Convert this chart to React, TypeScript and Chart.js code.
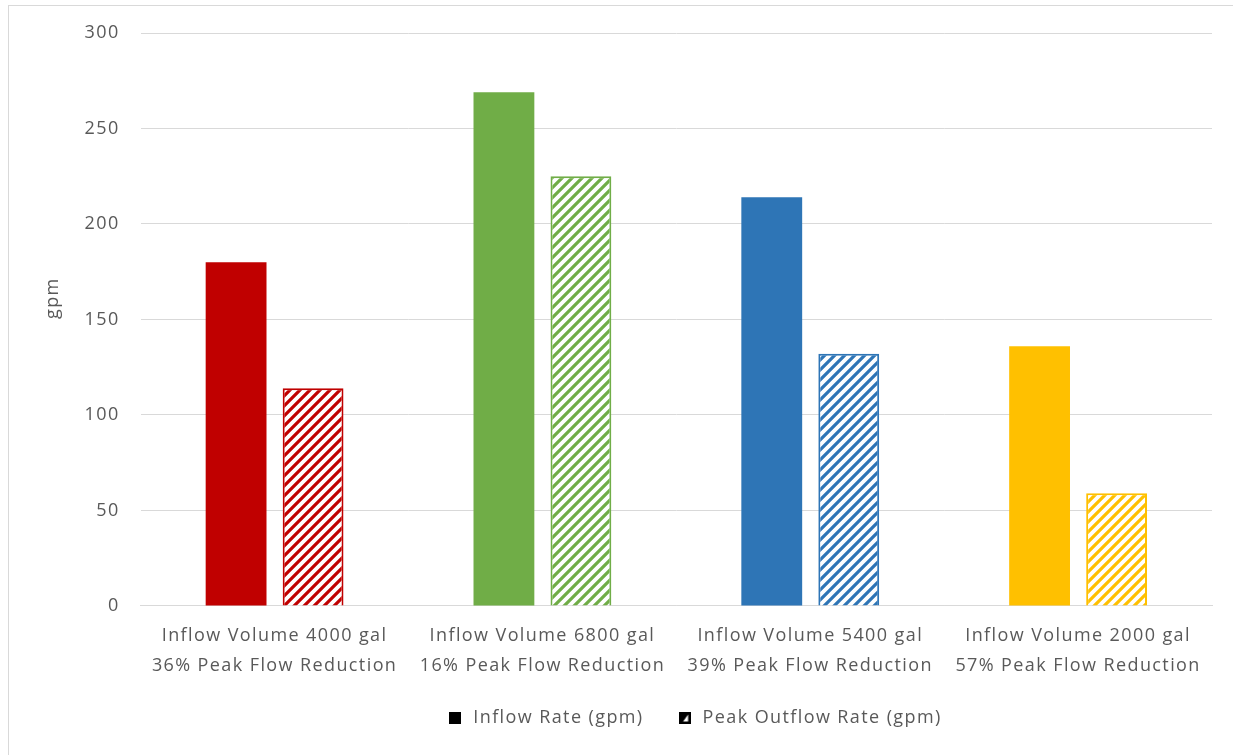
import React, { useEffect, useRef } from "react";
import { Chart, registerables } from "chart.js";

Chart.register(...registerables);

const categories: string[][] = [
  ["Inflow Volume 4000 gal", "36% Peak Flow Reduction"],
  ["Inflow Volume 6800 gal", "16% Peak Flow Reduction"],
  ["Inflow Volume 5400 gal", "39% Peak Flow Reduction"],
  ["Inflow Volume 2000 gal", "57% Peak Flow Reduction"],
];
const inflowRate = [180, 269, 214, 136];
const peakOutflowRate = [114, 225, 132, 59];
const barColors = ["#C00000", "#70AD47", "#2E75B6", "#FFC000"];
const seriesLabels = ["Inflow Rate (gpm)", "Peak Outflow Rate (gpm)"];
const yTitle = "gpm";

const FONT = "'Open Sans', sans-serif";
const TEXT = "#595959";
const SPACING = "1.4px";

function makeHatch(color: string): CanvasPattern | string {
  const s = 10;
  const c = document.createElement("canvas");
  c.width = s;
  c.height = s;
  const ctx = c.getContext("2d");
  if (!ctx) return color;
  ctx.fillStyle = "#ffffff";
  ctx.fillRect(0, 0, s, s);
  ctx.strokeStyle = color;
  ctx.lineWidth = 3.2;
  ctx.lineCap = "square";
  ctx.beginPath();
  ctx.moveTo(0, s);
  ctx.lineTo(s, 0);
  ctx.moveTo(-s / 2, s / 2);
  ctx.lineTo(s / 2, -s / 2);
  ctx.moveTo(s / 2, s * 1.5);
  ctx.lineTo(s * 1.5, s / 2);
  ctx.stroke();
  const p = ctx.createPattern(c, "repeat");
  return p || color;
}

function makeIcon(half: boolean): HTMLCanvasElement {
  const c = document.createElement("canvas");
  c.width = 12;
  c.height = 12;
  const ctx = c.getContext("2d")!;
  ctx.fillStyle = "#000";
  ctx.fillRect(0, 0, 12, 12);
  if (half) {
    ctx.fillStyle = "#fff";
    ctx.beginPath();
    ctx.moveTo(4.5, 9.5);
    ctx.lineTo(9.5, 9.5);
    ctx.lineTo(9.5, 2.5);
    ctx.closePath();
    ctx.fill();
  }
  return c;
}

const textSpacing = {
  id: "textSpacing",
  beforeUpdate(chart: any) {
    (chart.ctx as any).letterSpacing = SPACING;
  },
  beforeLayout(chart: any) {
    (chart.ctx as any).letterSpacing = SPACING;
  },
  beforeDraw(chart: any) {
    (chart.ctx as any).letterSpacing = SPACING;
  },
};

const legendShift = {
  id: "legendShift",
  afterLayout(chart: any) {
    const lg = chart.legend;
    if (lg) {
      lg.left += 138;
    }
  },
};

export default function App() {
  const ref = useRef<HTMLCanvasElement | null>(null);
  useEffect(() => {
    if (!ref.current) return;
    const hatches = barColors.map((c) => makeHatch(c));
    const icons = [makeIcon(false), makeIcon(true)];
    const chart = new Chart(ref.current, {
      type: "bar",
      data: {
        labels: categories,
        datasets: [
          {
            label: seriesLabels[0],
            data: inflowRate,
            backgroundColor: barColors,
            borderColor: barColors,
            borderWidth: 0,
          },
          {
            label: seriesLabels[1],
            data: peakOutflowRate,
            backgroundColor: hatches as any,
            borderColor: barColors,
            borderWidth: 2,
          },
        ],
      },
      options: {
        animation: false,
        responsive: true,
        maintainAspectRatio: false,
        datasets: {
          bar: { categoryPercentage: 0.575, barPercentage: 0.79 },
        },
        layout: { padding: { left: 38, right: 21, top: 33, bottom: 18 } },
        plugins: {
          tooltip: { enabled: false },
          legend: {
            position: "bottom",
            labels: {
              usePointStyle: true,
              padding: 32,
              color: TEXT,
              font: { family: FONT, size: 18 },
              generateLabels: () =>
                seriesLabels.map((t, i) => ({
                  text: t,
                  pointStyle: icons[i] as any,
                  fillStyle: "#000",
                  strokeStyle: "#000",
                  lineWidth: 0,
                  hidden: false,
                  datasetIndex: i,
                  fontColor: TEXT,
                })),
            },
          },
        },
        scales: {
          x: {
            grid: { display: false, drawTicks: false },
            border: { display: true, color: "#d9d9d9", width: 1 },
            afterFit: (scale: any) => {
              scale.height -= 19;
            },
            ticks: {
              color: TEXT,
              padding: 15,
              font: { family: FONT, size: 18, lineHeight: 1.67 },
              maxRotation: 0,
              autoSkip: false,
            },
          },
          y: {
            min: 0,
            max: 300,
            grid: { color: "#d9d9d9", drawTicks: false },
            border: { display: false },
            ticks: {
              stepSize: 50,
              color: TEXT,
              padding: 21,
              font: { family: FONT, size: 18 },
            },
            title: {
              display: true,
              text: "       " + yTitle,
              color: TEXT,
              font: { family: FONT, size: 18 },
              padding: { top: 4, bottom: 0 },
            },
          },
        },
      },
      plugins: [textSpacing, legendShift],
    });
    return () => chart.destroy();
  }, []);
  return (
    <div
      style={{
        position: "absolute",
        left: 0,
        top: 0,
        width: 1233,
        height: 755,
        background: "#fff",
      }}
    >
      <div
        style={{
          position: "absolute",
          left: 8,
          top: 5,
          right: 0,
          bottom: 0,
          borderLeft: "1px solid #d9d9d9",
          borderTop: "1px solid #d9d9d9",
        }}
      />
      <canvas ref={ref} style={{ position: "absolute", left: 0, top: 0, width: 1233, height: 755 }} />
    </div>
  );
}
